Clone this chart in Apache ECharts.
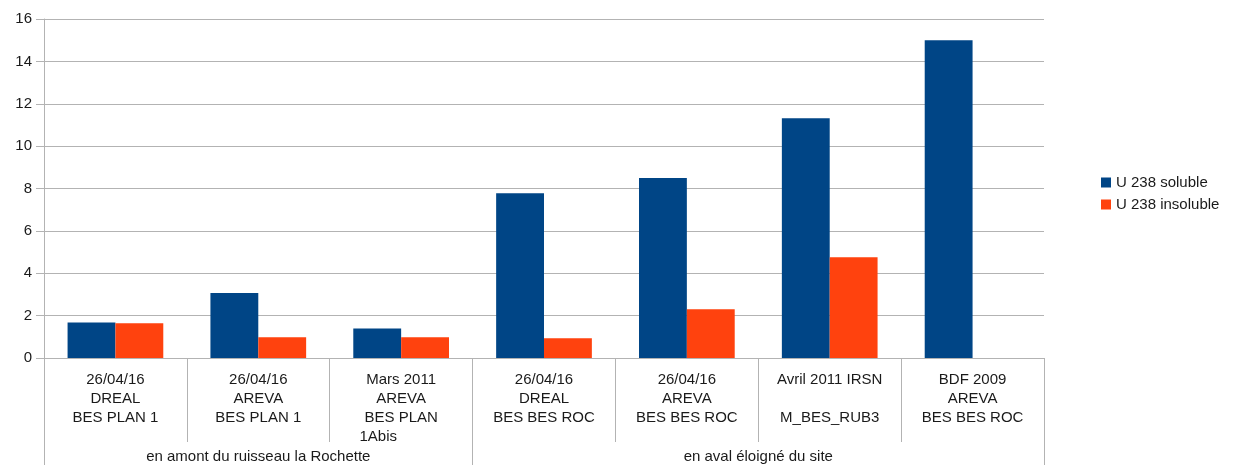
<!DOCTYPE html>
<html>
<head>
<meta charset="utf-8">
<script src="https://cdn.jsdelivr.net/npm/echarts@6/dist/echarts.min.js"></script>
<style>html,body{margin:0;padding:0;background:#fff;}#c{width:1236px;height:465px;}</style>
</head>
<body>
<div id="c"></div>
<script>
var categories = [
  "26/04/16\nDREAL\nBES PLAN 1",
  "26/04/16\nAREVA\nBES PLAN 1",
  "Mars 2011\nAREVA\nBES PLAN\n1Abis           ",
  "26/04/16\nDREAL\nBES BES ROC",
  "26/04/16\nAREVA\nBES BES ROC",
  "Avril 2011 IRSN\n\nM_BES_RUB3",
  "BDF 2009\nAREVA\nBES BES ROC"
];
var soluble = [1.67, 3.07, 1.39, 7.78, 8.49, 11.32, 15.0];
var insoluble = [1.64, 0.98, 0.98, 0.93, 2.3, 4.76, null];
var seriesNames = ["U 238 soluble", "U 238 insoluble"];
var groupNames = ["en amont du ruisseau la Rochette", "en aval éloigné du site"];
var groupBounds = [0, 3, 7];
var yTicks = [0, 2, 4, 6, 8, 10, 12, 14, 16];

var groupCenters = [];
for (var i = 0; i < groupNames.length; i++) groupCenters.push((groupBounds[i] + groupBounds[i + 1]) / 2);

var font = "Liberation Sans";
var grey = "#b3b3b3";
var txt = "#1a1a1a";
var chart = echarts.init(document.getElementById('c'));
chart.setOption({
  animation: false,
  textStyle: { fontFamily: font },
  grid: { left: 44, right: 192, top: 19, bottom: 107 },
  legend: {
    orient: 'vertical', left: 1096, top: 170,
    icon: 'rect', itemWidth: 10, itemHeight: 10, itemGap: 7,
    textStyle: { fontFamily: font, fontSize: 15, color: txt },
    data: seriesNames
  },
  xAxis: [
    {
      type: 'category', data: categories, position: 'bottom',
      axisLine: { lineStyle: { color: grey } },
      axisTick: { show: true, length: 84, interval: 0, lineStyle: { color: grey } },
      axisLabel: { interval: 0, margin: 12, fontSize: 15, lineHeight: 19, color: txt, fontFamily: font, verticalAlign: 'top' },
      splitLine: { show: false }
    },
    {
      type: 'value', min: 0, max: 7, position: 'bottom',
      axisLine: { show: false },
      splitLine: { show: false },
      axisTick: { show: true, length: 107, customValues: groupBounds, lineStyle: { color: grey } },
      axisLabel: {
        customValues: groupCenters, margin: 91, fontSize: 15, color: txt, fontFamily: font,
        formatter: function (v) { var k = groupCenters.indexOf(v); return k >= 0 ? groupNames[k] : ''; }
      }
    }
  ],
  yAxis: {
    type: 'value', min: yTicks[0], max: yTicks[yTicks.length - 1], interval: 2,
    axisLine: { show: true, lineStyle: { color: grey } },
    axisTick: { show: true, length: 8, lineStyle: { color: grey } },
    axisLabel: { margin: 12, fontSize: 15, color: txt, fontFamily: font },
    splitLine: { show: true, lineStyle: { color: grey, width: 1 } }
  },
  series: [
    { name: seriesNames[0], type: 'bar', data: soluble, xAxisIndex: 0, barGap: '0%', barCategoryGap: '33%', itemStyle: { color: '#004586' } },
    { name: seriesNames[1], type: 'bar', data: insoluble, xAxisIndex: 0, barGap: '0%', barCategoryGap: '33%', itemStyle: { color: '#ff420e' } }
  ]
});
</script>
</body>
</html>
